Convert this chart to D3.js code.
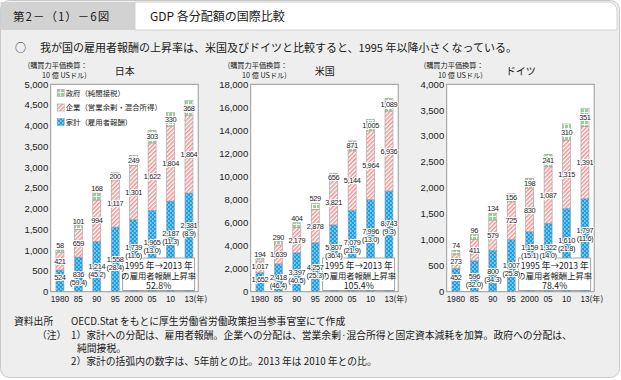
<!DOCTYPE html>
<html><head><meta charset="utf-8">
<script src="https://cdn.jsdelivr.net/npm/d3@7"></script>
<style>
html,body{margin:0;padding:0;background:#fff;}
svg{display:block;}
text{font-family:"Noto Sans CJK JP","Noto Sans",sans-serif;fill:#1a1a1a;}
.num{font-family:"Liberation Sans",Arial,sans-serif;}
.tick{font-family:"Liberation Sans",Arial,sans-serif;}
</style></head><body>
<svg id="c" width="621" height="380"></svg>
<script>
// ---- data ----
const years = ["1980","85","90","95","2000","05","10","13"];

const japanHousehold  = [524, 836, 1214, 1558, 1739, 1965, 2187, 2381];
const japanCorporate  = [421, 659, 994, 1117, 1301, 1622, 1804, 1864];
const japanGovernment = [58, 101, 168, 200, 249, 303, 330, 368];
const japanGrowth     = [null, 59.4, 45.2, 28.4, 11.6, 13.0, 11.3, 8.9];

const usHousehold  = [1652, 2418, 3397, 4257, 5807, 7079, 7996, 8743];
const usCorporate  = [1017, 1639, 2179, 2878, 3821, 5144, 5964, 6936];
const usGovernment = [194, 290, 404, 529, 656, 871, 1005, 1089];
const usGrowth     = [null, 46.4, 40.5, 25.3, 36.4, 21.9, 13.0, 9.3];

const deHousehold  = [452, 596, 800, 1007, 1159, 1322, 1610, 1797];
const deCorporate  = [273, 411, 579, 725, 830, 1087, 1315, 1391];
const deGovernment = [74, 96, 134, 156, 198, 241, 310, 351];
const deGrowth     = [null, 32.0, 34.3, 25.8, 15.1, 14.0, 21.8, 11.6];

const countryNames = ["日本", "米国", "ドイツ"];
const yMaxima      = [5000, 18000, 4000];
const yTickSteps   = [500, 2000, 500];
const riseRates    = ["52.8%", "105.4%", "78.4%"];
const legendLabels = ["政府（純間接税）", "企業（営業余剰・混合所得）", "家計（雇用者報酬）"];

// ---- drawing ----
const svg = d3.select("#c");
const defs = svg.append("defs");

const pH = defs.append("pattern").attr("id","pHouse").attr("patternUnits","userSpaceOnUse").attr("width",4).attr("height",4);
pH.append("rect").attr("width",4).attr("height",4).attr("fill","#1a9fe6");
pH.append("path").attr("d","M0,1 h1.6 M2,3 h1.6").attr("stroke","#ffffff").attr("stroke-width",0.9);

const pC = defs.append("pattern").attr("id","pCorp").attr("patternUnits","userSpaceOnUse").attr("width",3).attr("height",3).attr("patternTransform","rotate(45)");
pC.append("rect").attr("width",3).attr("height",3).attr("fill","#ffffff");
pC.append("line").attr("x1",0.8).attr("y1",0).attr("x2",0.8).attr("y2",3).attr("stroke","#f08a8a").attr("stroke-width",1.4);

const pG = defs.append("pattern").attr("id","pGov").attr("patternUnits","userSpaceOnUse").attr("width",4).attr("height",4);
pG.append("rect").attr("width",4).attr("height",4).attr("fill","#98d096");
pG.append("path").attr("d","M0,0.5 h4 M0.5,0 v4").attr("stroke","#ffffff").attr("stroke-width",0.9);

// background panel and header
svg.append("rect").attr("x",0.5).attr("y",0.5).attr("width",619).attr("height",377).attr("rx",9)
  .attr("fill","#eeeeee").attr("stroke","#c9c9c9");
svg.append("path").attr("d","M0.5,2 H135 V30 H0.5 Z").attr("fill","#d2d2d2");
svg.append("path").attr("d","M135,2 H608 A9,9 0 0 1 617,11 V30 H135 Z").attr("fill","#ffffff").attr("stroke","#c9c9c9").attr("stroke-width",0.8);
svg.append("text").attr("x",13).attr("y",21).attr("font-size",11.5).attr("letter-spacing",1).text("第2－（1）－6図");
svg.append("text").attr("x",150).attr("y",21).attr("font-size",12).text("GDP 各分配額の国際比較");
svg.append("text").attr("x",15).attr("y",51.5).attr("font-size",11).text("○");
svg.append("text").attr("x",40).attr("y",51.5).attr("font-size",11).text("我が国の雇用者報酬の上昇率は、米国及びドイツと比較すると、1995 年以降小さくなっている。");

// footer
const foot = svg.append("g");
foot.append("text").attr("x",14).attr("y",325).attr("font-size",9.8).text("資料出所");
foot.append("text").attr("x",71).attr("y",325).attr("font-size",9.8).text("OECD.Stat をもとに厚生労働省労働政策担当参事官室にて作成");
foot.append("text").attr("x",37).attr("y",338.5).attr("font-size",9.8).text("（注）");
foot.append("text").attr("x",71).attr("y",338.5).attr("font-size",9.8).text("1）家計への分配は、雇用者報酬。企業への分配は、営業余剰·混合所得と固定資本減耗を加算。政府への分配は、");
foot.append("text").attr("x",77).attr("y",351.5).attr("font-size",9.8).text("純間接税。");
foot.append("text").attr("x",71).attr("y",364.5).attr("font-size",9.8).text("2）家計の括弧内の数字は、5年前との比。2013 年は 2010 年との比。");

const plotTop = 84.3, plotBottom = 291.7;
const plotLefts = [50.7, 250.7, 446.7];
const plotWidth = 147.5;
const fmt = d3.format(",");

const datasets = [
  {hh: japanHousehold, corp: japanCorporate, gov: japanGovernment, growth: japanGrowth},
  {hh: usHousehold, corp: usCorporate, gov: usGovernment, growth: usGrowth},
  {hh: deHousehold, corp: deCorporate, gov: deGovernment, growth: deGrowth}
];

function halo(sel){
  return sel.attr("stroke","#ffffff").attr("stroke-width",2).attr("stroke-linejoin","round").attr("paint-order","stroke");
}

datasets.forEach((d, ci) => {
  const L = plotLefts[ci], R = L + plotWidth;
  const g = svg.append("g");
  const y = d3.scaleLinear().domain([0, yMaxima[ci]]).range([plotBottom, plotTop]);
  const x = d3.scalePoint().domain(years).range([L, R]).padding(0.5);
  const bw = 8;

  // unit label and title
  g.append("text").attr("x",L+37).attr("y",68).attr("font-size",7.2).attr("text-anchor","end").text("(購買力平価換算：");
  g.append("text").attr("x",L+36).attr("y",78).attr("font-size",7.2).attr("text-anchor","end").text("10 億 USドル)");
  g.append("text").attr("x",L+74).attr("y",74.5).attr("font-size",10).attr("text-anchor","middle").text(countryNames[ci]);

  // frame
  g.append("rect").attr("x",L).attr("y",plotTop).attr("width",plotWidth).attr("height",plotBottom-plotTop)
    .attr("fill","#ffffff").attr("stroke","#9a9a9a").attr("stroke-width",1);

  // y axis labels
  const ticks = d3.range(0, yMaxima[ci] + 1, yTickSteps[ci]);
  g.selectAll("text.yt").data(ticks).join("text").attr("class","tick")
    .attr("x", L-2.5).attr("y", v => y(v)).attr("dy","0.35em").attr("text-anchor","end")
    .attr("font-size",9.5).text(v => fmt(v));

  // x labels
  g.selectAll("text.xt").data(years).join("text").attr("class","tick")
    .attr("x", v => x(v)).attr("y", 301.5).attr("text-anchor","middle").attr("font-size",8.2).text(v => v);
  g.append("text").attr("x", x(years[years.length-1]) + 4.5).attr("y",301.5).attr("font-size",8.2).text("(年)");

  // bars
  const rows = years.map((yr, i) => ({yr, i, hh: d.hh[i], corp: d.corp[i], gov: d.gov[i], growth: d.growth[i]}));
  const segs = [];
  rows.forEach(r => {
    segs.push({yr:r.yr, y0:0, y1:r.hh, fill:"url(#pHouse)"});
    segs.push({yr:r.yr, y0:r.hh, y1:r.hh+r.corp, fill:"url(#pCorp)"});
    segs.push({yr:r.yr, y0:r.hh+r.corp, y1:r.hh+r.corp+r.gov, fill:"url(#pGov)"});
  });
  g.selectAll("rect.seg").data(segs).join("rect")
    .attr("x", s => x(s.yr) - bw/2).attr("width", bw)
    .attr("y", s => y(s.y1)).attr("height", s => y(s.y0) - y(s.y1))
    .attr("fill", s => s.fill).attr("stroke","#a0a0a0").attr("stroke-width",0.6);

  // legend (Japan only)
  if (ci === 0) {
    const lf = ["url(#pGov)","url(#pCorp)","url(#pHouse)"];
    legendLabels.forEach((t, k) => {
      const cy = 93 + k*14.5;
      g.append("rect").attr("x",L+6.5).attr("y",cy-3.5).attr("width",7).attr("height",7)
        .attr("fill",lf[k]).attr("stroke","#a0a0a0").attr("stroke-width",0.6);
      g.append("text").attr("x",L+15).attr("y",cy).attr("dy","0.36em").attr("font-size",7.4).text(t);
    });
  }

  // annotation box
  const bx = L + 72, by = 258, bwid = 72, bh = 32.5;
  g.append("rect").attr("x",bx).attr("y",by).attr("width",bwid).attr("height",bh)
    .attr("fill","#ffffff").attr("stroke","#8c8c8c").attr("stroke-width",0.8);
  const cx = bx + bwid/2;
  g.append("text").attr("x",cx).attr("y",265.5).attr("dy","0.36em").attr("text-anchor","middle").attr("font-size",8.6).text("1995 年→2013 年");
  g.append("text").attr("x",cx).attr("y",275.6).attr("dy","0.36em").attr("text-anchor","middle").attr("font-size",8.3).text("の雇用者報酬上昇率");
  g.append("text").attr("x",cx).attr("y",285.4).attr("dy","0.36em").attr("text-anchor","middle").attr("font-size",8.8).text(riseRates[ci]);

  // data labels
  const lab = g.append("g").attr("class","num").attr("font-size",7.4).attr("letter-spacing",-0.35).attr("text-anchor","middle");
  rows.forEach(r => {
    const cxx = x(r.yr);
    const tot = r.hh + r.corp + r.gov;
    const govH = y(r.hh + r.corp) - y(tot);
    const govY = govH >= 7.5 ? (y(tot) + y(r.hh + r.corp)) / 2 : y(tot) - 4.5;
    halo(lab.append("text").attr("class","num").attr("x",cxx).attr("y",govY).attr("dy","0.35em").text(fmt(r.gov)));
    const corpY = (y(r.hh) + y(r.hh + r.corp)) / 2;
    halo(lab.append("text").attr("class","num").attr("x",cxx).attr("y",corpY).attr("dy","0.35em").text(fmt(r.corp)));
    const hhMid = (y(0) + y(r.hh)) / 2;
    let hhY;
    if (r.growth === null) hhY = hhMid - 3;
    else if (r.i < 4) hhY = hhMid;
    else hhY = Math.min(y(r.hh) + 32, by - 10.5);
    halo(lab.append("text").attr("class","num").attr("x",cxx).attr("y",hhY).attr("dy","0.35em").text(fmt(r.hh)));
    if (r.growth !== null) {
      halo(lab.append("text").attr("class","num").attr("x",cxx).attr("y",hhY + 8).attr("dy","0.35em").text("(" + r.growth.toFixed(1) + ")"));
    }
  });
});
</script>
</body></html>
